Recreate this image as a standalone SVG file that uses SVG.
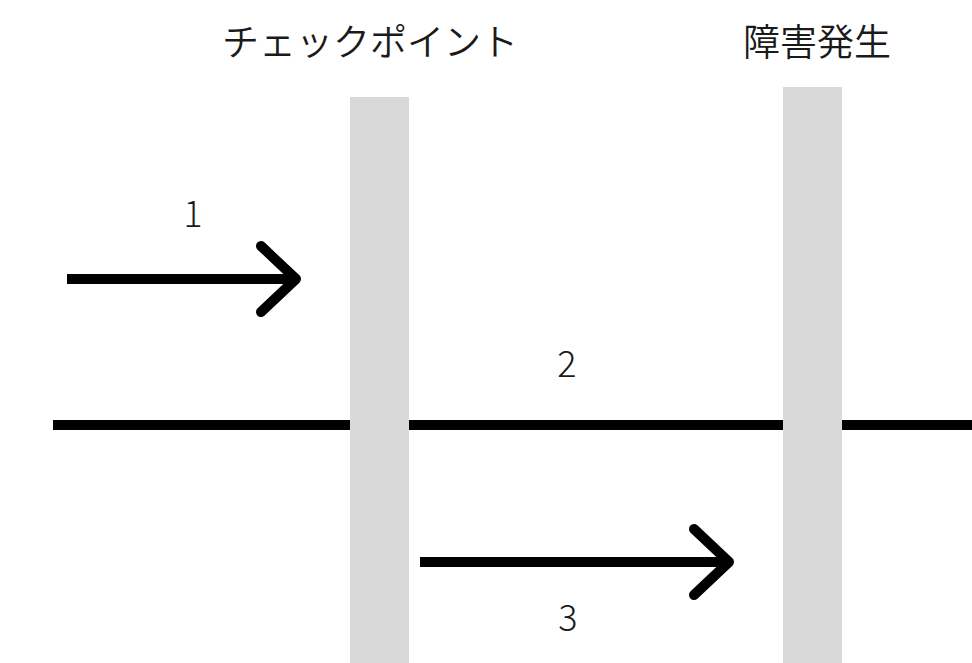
<svg xmlns="http://www.w3.org/2000/svg" width="972" height="663" viewBox="0 0 972 663">
<style>
.bar{fill:#d9d9d9}
.ln{stroke:#000;stroke-width:10;fill:none}
.ah{stroke:#000;stroke-width:10;fill:none;stroke-linecap:round;stroke-linejoin:round}
.t{font-family:"Noto Sans CJK JP","Noto Sans",sans-serif;fill:#1a1a1a}
.n{font-size:36px;text-anchor:middle;font-weight:300}
.h{font-size:37px;text-anchor:middle;font-weight:350}
</style>
<rect width="972" height="663" fill="#fff"/>
<g id="connectors">
<line class="ln" x1="53" y1="425" x2="972" y2="425"/>
</g>
<g id="checkpoint">
<rect class="bar" x="350" y="97" width="59" height="566"/>
<text class="t h" x="370" y="56">チェックポイント</text>
</g>
<g id="failure">
<rect class="bar" x="783" y="87" width="59" height="576"/>
<text class="t h" x="817" y="56">障害発生</text>
</g>
<g id="arrows">
<line class="ln" x1="67" y1="279" x2="296" y2="279"/>
<polyline class="ah" points="261,246 296,279 261,312"/>
<line class="ln" x1="420" y1="562" x2="729" y2="562"/>
<polyline class="ah" points="694,529 729,562 694,595"/>
</g>
<g id="labels">
<text class="t n" x="193" y="227">1</text>
<text class="t n" x="567" y="377">2</text>
<text class="t n" x="568" y="631">3</text>
</g>
</svg>
